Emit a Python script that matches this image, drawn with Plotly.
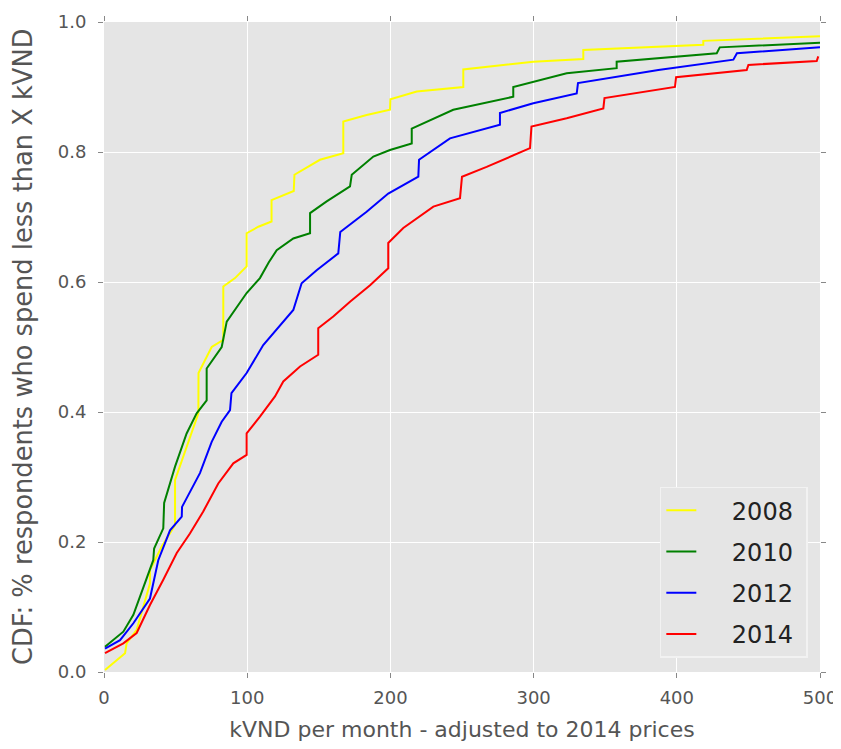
import plotly.graph_objects as go

years = ["2008", "2010", "2012", "2014"]
colors = ["#ffff00", "#008000", "#0000ff", "#ff0000"]

x_2008 = [0.7, 14.7, 15.8, 22.8, 32.1, 32.1, 40.3, 49.6, 49.6, 55.4, 65.9, 66, 75.2, 83.3, 83.3,
          91.5, 99.6, 99.6, 107.8, 117, 117, 132.5, 133, 150.8, 167.1, 167.1, 183.4, 199.7, 200,
          218.4, 250.9, 250.9, 299.8, 334.7, 334.7, 418.5, 418.5, 500]
y_2008 = [0.003, 0.029, 0.044, 0.065, 0.136, 0.157, 0.193, 0.226, 0.295, 0.331, 0.398, 0.46, 0.50,
          0.511, 0.593, 0.606, 0.624, 0.675, 0.685, 0.693, 0.726, 0.74, 0.765, 0.788, 0.798, 0.847,
          0.857, 0.865, 0.881, 0.893, 0.900, 0.927, 0.939, 0.943, 0.957, 0.965, 0.971, 0.978]

x_2010 = [0.7, 13.5, 20.5, 28.6, 34.4, 35, 41.4, 42, 49.6, 57.7, 64.7, 71.7, 71.7, 82.2, 85.7,
          99.6, 108.9, 115, 120.6, 132.2, 143.9, 143.9, 155.5, 171.8, 173, 188.1, 199.7, 214.9,
          214.9, 243.9, 285.8, 285.8, 323.1, 358, 358, 427.9, 430, 500]
y_2010 = [0.039, 0.062, 0.088, 0.136, 0.172, 0.19, 0.221, 0.26, 0.316, 0.367, 0.398, 0.418, 0.467,
          0.50, 0.539, 0.583, 0.606, 0.63, 0.649, 0.667, 0.675, 0.706, 0.724, 0.747, 0.765, 0.793,
          0.803, 0.813, 0.836, 0.865, 0.885, 0.900, 0.921, 0.929, 0.939, 0.952, 0.961, 0.968]

x_2012 = [0.7, 11.2, 20.5, 32.1, 37.9, 46.1, 54.3, 54.5, 67, 75.2, 82.2, 88, 89, 99.6, 111.2,
          124.1, 132.2, 138, 148.5, 163.6, 165, 183.4, 198.5, 219.5, 220, 241.6, 276.5, 276.5,
          299.8, 330.1, 331, 387.1, 439.5, 442, 500]
y_2012 = [0.036, 0.049, 0.075, 0.113, 0.172, 0.218, 0.239, 0.254, 0.306, 0.354, 0.385, 0.403,
          0.429, 0.46, 0.503, 0.536, 0.557, 0.598, 0.618, 0.644, 0.677, 0.708, 0.736, 0.762, 0.788,
          0.821, 0.842, 0.86, 0.875, 0.890, 0.906, 0.926, 0.942, 0.952, 0.961]

x_2014 = [0.7, 13.5, 22.8, 32.1, 41.4, 50.8, 60, 69.3, 79.8, 90.3, 99.6, 99.6, 108.9, 119.4,
          125.2, 136.9, 149.6, 149.6, 160.1, 172, 185.8, 198.5, 198.5, 209, 230, 248.6, 250,
          267.2, 297.5, 298.5, 323.1, 348.7, 349.5, 398.7, 399.5, 448.8, 450, 497.7, 498.8]
y_2014 = [0.029, 0.044, 0.06, 0.103, 0.142, 0.183, 0.213, 0.247, 0.29, 0.321, 0.334, 0.367, 0.393,
          0.424, 0.447, 0.47, 0.488, 0.529, 0.547, 0.57, 0.595, 0.621, 0.66, 0.683, 0.716, 0.729,
          0.762, 0.777, 0.806, 0.839, 0.852, 0.867, 0.883, 0.90, 0.915, 0.926, 0.934, 0.94, 0.947]

series = [(x_2008, y_2008), (x_2010, y_2010), (x_2012, y_2012), (x_2014, y_2014)]

fig = go.Figure()
for name, c, (xs, ys) in zip(years, colors, series):
    # pad the label so the legend entry sits like matplotlib's
    fig.add_trace(go.Scatter(x=xs, y=ys, mode="lines", name="    " + name + " ", legendgroup=name,
                             line=dict(color=c, width=2)))

axis_common = dict(
    showgrid=True, gridcolor="white", gridwidth=1.2,
    zeroline=False, showline=False, automargin=False,
    ticks="outside", ticklen=5, tickcolor="#888888", mirror="ticks",
    tickfont=dict(size=18, color="#555555"),
)

fig.update_xaxes(range=[0, 500], dtick=100, ticklabelstandoff=4,
                 title=dict(text="kVND per month - adjusted to 2014 prices",
                            font=dict(size=22, color="#555555"), standoff=15),
                 **axis_common)
fig.update_yaxes(range=[0, 1.0], dtick=0.2, tickformat=".1f", ticklabelstandoff=8,
                 **axis_common)

# y label is a bit bigger than the x label in the original
fig.add_annotation(text="CDF: % respondents who spend less than X kVND",
                   xref="paper", yref="paper", x=0, y=0.5, xshift=-81,
                   xanchor="center", yanchor="middle", textangle=-90, showarrow=False,
                   font=dict(size=25.7, color="#555555"))

# page body has an 8px margin, so the figure is a bit smaller than the window
fig.update_layout(
    width=833, height=741,
    margin=dict(l=96, r=21, t=14, b=77),
    plot_bgcolor="#e5e5e5",
    paper_bgcolor="white",
    font=dict(family="DejaVu Sans"),
    showlegend=True,
    legend=dict(x=0.983, y=0.022, xanchor="right", yanchor="bottom",
                bgcolor="#e5e5e5", bordercolor="#f2f2f2", borderwidth=1.5,
                font=dict(size=24, color="#222222"), tracegroupgap=7),
)

fig.write_html("out.html")
